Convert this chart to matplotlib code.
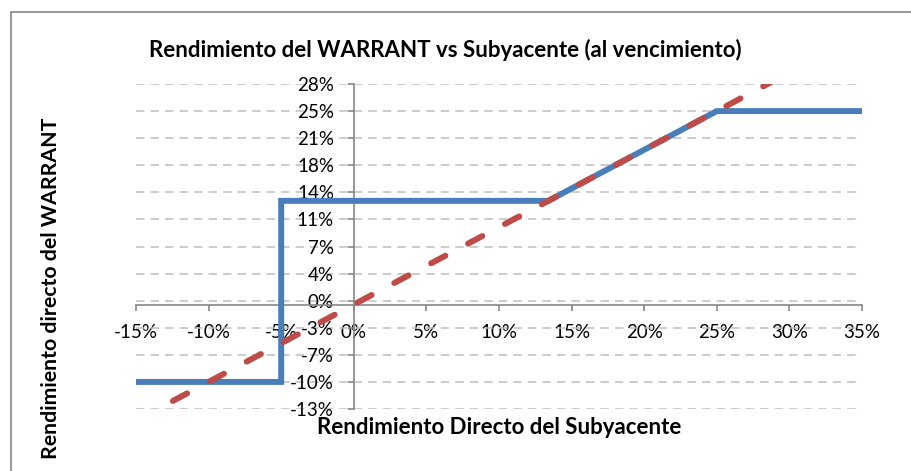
import matplotlib
matplotlib.use('Agg')
import matplotlib.pyplot as plt
from matplotlib.patches import Rectangle

plt.rcParams['font.family'] = ['Lato', 'DejaVu Sans']

# data (returns as fractions)
subyacente = [-0.15, 0.35]
subyacente_ret = [-0.15, 0.35]

warrant_x = [-0.15, -0.05, -0.05, 0.134, 0.25, 0.35]
warrant_y = [-0.10, -0.10, 0.134, 0.134, 0.25, 0.25]

x_ticks = [-0.15, -0.10, -0.05, 0.0, 0.05, 0.10, 0.15, 0.20, 0.25, 0.30, 0.35]
x_labels = ['-15%', '-10%', '-5%', '0%', '5%', '10%', '15%', '20%', '25%', '30%', '35%']
y_ticks = [-0.135, -0.10, -0.065, -0.03, 0.005, 0.04, 0.075, 0.11, 0.145, 0.18, 0.215, 0.25, 0.285]
y_labels = ['-13%', '-10%', '-7%', '-3%', '0%', '4%', '7%', '11%', '14%', '18%', '21%', '25%', '28%']

W, H = 912, 471
fig = plt.figure(figsize=(W / 100, H / 100), dpi=100)
ax = fig.add_axes([136 / W, 1 - 409 / H, (862 - 136) / W, (409 - 84) / H])

ax.plot(warrant_x, warrant_y, color='#4A7EBB', lw=4.3, solid_joinstyle='miter',
        solid_capstyle='butt', zorder=3)
ax.plot(subyacente, subyacente_ret, color='#BE4B48', lw=4.3, linestyle=(0, (2.7, 4.3)),
        dash_capstyle='round', zorder=4)

ax.set_xlim(-0.15, 0.35)
ax.set_ylim(-0.135, 0.285)
ax.set_xticks(x_ticks)
ax.set_xticklabels(x_labels)
ax.set_yticks(y_ticks)
ax.set_yticklabels(y_labels)

# gridlines
ax.yaxis.grid(True, color='#BFBFBF', lw=1.1, linestyle=(0, (5.5, 4)))
ax.xaxis.grid(False)
ax.set_axisbelow(True)

# axes cross at zero like in excel
for s in ['top', 'right']:
    ax.spines[s].set_visible(False)
ax.spines['left'].set_position(('data', 0))
ax.spines['bottom'].set_position(('data', 0))
for s in ['left', 'bottom']:
    ax.spines[s].set_color('#868686')
    ax.spines[s].set_linewidth(1.2)

ax.tick_params(axis='both', colors='#868686', width=1.2, length=4.3, direction='out',
               labelsize=13.5, labelcolor='black')
ax.tick_params(axis='y', pad=10)
ax.tick_params(axis='x', pad=10)

fig.text(445 / W, 1 - 50 / H, 'Rendimiento del WARRANT vs Subyacente (al vencimiento)',
         ha='center', va='center', fontsize=16, fontweight='bold')
fig.text(499 / W, 1 - 428 / H, 'Rendimiento Directo del Subyacente',
         ha='center', va='center', fontsize=16, fontweight='bold')
fig.text(51 / W, 1 - 288 / H, 'Rendimiento directo del WARRANT',
         ha='center', va='center', rotation=90, fontsize=15.3, fontweight='bold')

# chart border (only top and left edges fall inside the picture)
fig.add_artist(Rectangle((11 / W, -0.2), 1.5, 1.2 - 12 / H, transform=fig.transFigure,
                         fill=False, edgecolor='#868686', lw=1.2))

fig.savefig('out.png', dpi=100, facecolor='white')
